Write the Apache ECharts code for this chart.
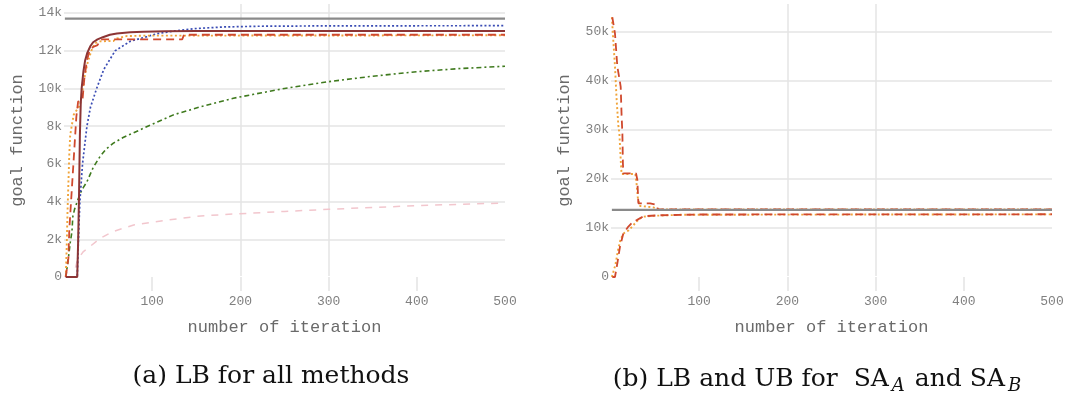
<!DOCTYPE html>
<html>
<head>
<meta charset="utf-8">
<script src="https://cdn.jsdelivr.net/npm/echarts@6/dist/echarts.min.js"></script>
<style>
  html, body { margin: 0; padding: 0; background: #ffffff; }
  #chart { width: 1070px; height: 398px; }
</style>
</head>
<body>
<div id="chart"></div>
<script>
// iteration / goal function pairs

// (a) lower bounds for all methods
const bestKnown = [[1, 13700], [500, 13700]];
const lbSolid = [[2, 0], [15, 0], [16, 1800], [17, 4200], [18, 7500], [19, 9200], [20, 10000], [22, 10900], [24, 11500],
  [26.5, 11900], [30, 12250], [33, 12450], [38, 12600], [44, 12720], [52, 12850], [60, 12920], [75, 12980], [90, 13010],
  [115, 13040], [150, 13050], [500, 13050]];
const lbBlue = [[2, 0], [15, 0], [16, 1500], [17, 2800], [18, 4000], [19.5, 5000], [21, 6000], [23.5, 7000], [26, 8000],
  [30, 9000], [37, 10000], [45, 11000], [58, 12000], [75, 12500], [94, 12750], [105, 12900], [125, 13050], [150, 13180],
  [180, 13260], [220, 13300], [300, 13320], [500, 13330]];
const lbRed = [[2, 0], [4, 0], [5, 1000], [6, 2500], [8, 4000], [10, 5500], [12, 7000], [14, 8500], [16, 9300], [21, 9400],
  [23, 10500], [26, 11500], [29, 12000], [33, 12200], [38, 12300], [42, 12600], [134, 12600], [136, 12850], [500, 12850]];
const lbOrange = [[2, 0], [3, 1500], [4, 3500], [5, 5000], [6, 6500], [7, 7500], [8.7, 8000], [11, 8600], [15, 8900],
  [18, 9100], [21, 9900], [24, 10800], [27, 11400], [31, 12000], [35, 12400], [41, 12500], [56, 12520], [60, 12650],
  [71, 12780], [90, 12800], [500, 12820]];
const lbGreen = [[2, 0], [5, 1000], [7, 1800], [9, 2400], [10, 3200], [12, 3600], [15, 4000], [18, 4400], [22, 4750],
  [26, 5050], [33, 5800], [41, 6400], [48, 6800], [56, 7100], [67, 7400], [79, 7650], [98, 8060], [124, 8600],
  [155, 9030], [192, 9480], [215, 9690], [250, 10000], [300, 10360], [350, 10650], [400, 10890], [450, 11060], [500, 11180]];
const lbPink = [[13, 500], [15, 850], [18, 1100], [22, 1350], [29, 1600], [41, 2050], [55, 2400], [79, 2760], [100, 2900],
  [117, 3020], [155, 3240], [192, 3340], [211, 3380], [250, 3480], [300, 3590], [350, 3690], [400, 3780], [450, 3860], [500, 3925]];

// (b) lower and upper bounds for SA_A and SA_B
const ubRed = [[1.5, 53000], [4.5, 49700], [7.2, 42900], [9.5, 40500], [11, 38800], [12, 33000], [12.9, 29300],
  [13.5, 23200], [14, 21150], [28.4, 21150], [29.9, 19800], [31, 15030], [44.3, 15030], [45, 14690], [52, 14690],
  [53, 13810], [500, 13810]];
const ubOrange = [[1, 53000], [2.7, 48000], [4.5, 43000], [6.4, 36100], [8.3, 31000], [9.5, 29300], [11, 24000],
  [12, 21000], [27.6, 21000], [29, 19000], [30.5, 16000], [33, 14500], [48, 14200], [55, 13800], [500, 13800]];
const lbRedB = [[1.5, 0], [4.5, 0], [7.2, 2800], [10.2, 6200], [14, 8900], [19.7, 10300], [23.5, 11000], [29.2, 11600],
  [36.7, 12400], [55.7, 12600], [100, 12750], [500, 12800]];
const lbOrangeB = [[1, 0], [3, 0], [5, 2500], [8, 5500], [11, 7800], [15, 9000], [20, 9500], [25, 10500], [30, 11500],
  [36, 12300], [50, 12500], [80, 12700], [500, 12780]];

const xTicks = { min: 0, max: 500, interval: 100 };
const xInnerTicks = [100, 200, 300, 400];
const yTicksA = { min: 0, max: 14480, interval: 2000 };
const yTicksB = { min: 0, max: 55700, interval: 10000 };

const MONO = '"Liberation Mono", "DejaVu Sans Mono", monospace';
const SERIF = '"DejaVu Serif", serif';
const GRID = '#e4e4e4';
const LABEL = '#808080';
const NAME = '#6a6a6a';

function kLabel(step) {
  return (v) => (v % step !== 0 ? '' : v === 0 ? '0' : v / 1000 + 'k');
}

function xAxis(gridIndex) {
  return {
    type: 'value', gridIndex, ...xTicks,
    name: 'number of iteration', nameLocation: 'middle', nameGap: 42,
    nameTextStyle: { fontFamily: MONO, fontSize: 17, color: NAME },
    axisLine: { show: true, lineStyle: { color: '#ffffff', width: 2 } },
    axisTick: { show: true, length: 14, customValues: xInnerTicks, lineStyle: { color: GRID, width: 1.5 } },
    axisLabel: { fontFamily: MONO, fontSize: 13, color: LABEL, margin: 18, showMinLabel: false },
    splitLine: { show: true, showMinLine: false, showMaxLine: false, lineStyle: { color: GRID, width: 1.5 } },
  };
}

function yAxis(gridIndex, ticks) {
  return {
    type: 'value', gridIndex, ...ticks,
    name: 'goal function', nameLocation: 'middle', nameGap: 38,
    nameTextStyle: { fontFamily: MONO, fontSize: 17, color: NAME },
    axisLine: { show: false },
    axisTick: { show: false },
    axisLabel: { fontFamily: MONO, fontSize: 13, color: LABEL, margin: 2, showMaxLabel: false, formatter: kLabel(ticks.interval) },
    splitLine: { show: true, showMinLine: false, showMaxLine: false, lineStyle: { color: GRID, width: 1.5 } },
  };
}

function line(idx, data, color, type, width, z) {
  return {
    type: 'line', xAxisIndex: idx, yAxisIndex: idx, data, symbol: 'none', z: z || 2,
    lineStyle: { color, type, width }, animation: false,
  };
}

const sub = { fontFamily: SERIF, fontStyle: 'italic', fontSize: 18, color: '#111111', verticalAlign: 'bottom', padding: [13, 10, 0, 3] };

const chart = echarts.init(document.getElementById('chart'));
chart.setOption({
  backgroundColor: '#ffffff',
  animation: false,
  grid: [
    { left: 64, right: 565, top: 4, bottom: 121 },
    { left: 611, right: 18, top: 4, bottom: 121 },
  ],
  xAxis: [xAxis(0), xAxis(1)],
  yAxis: [yAxis(0, yTicksA), yAxis(1, yTicksB)],
  title: [
    {
      text: '(a) LB for all methods', left: 266, top: 359, textAlign: 'center',
      textStyle: { fontFamily: SERIF, fontWeight: 'normal', fontSize: 25, color: '#111111' },
    },
    {
      text: '(b) LB and UB for  SA{s|A}and SA{s|B}', left: 817, top: 359, textAlign: 'center',
      textStyle: { fontFamily: SERIF, fontWeight: 'normal', fontSize: 25, color: '#111111', rich: { s: sub } },
    },
  ],
  series: [
    line(0, lbPink, '#f2c6cd', [7, 7], 1.5),
    line(0, lbGreen, '#3f7a1e', [5, 3, 2, 3], 1.6),
    line(0, lbBlue, '#3a4cb4', [2, 2.2], 1.7),
    line(0, lbOrange, '#f0a43a', [2, 2.5], 1.9),
    line(0, lbRed, '#d0492e', [8, 5], 1.8),
    line(0, lbSolid, '#8c3535', 'solid', 2),
    line(0, bestKnown, '#8a8a8a', 'solid', 2.2, 3),
    line(1, ubOrange, '#f0a43a', [2, 2.5], 1.9),
    line(1, ubRed, '#d0492e', [8, 5], 1.8),
    line(1, lbOrangeB, '#f0a43a', [2, 2.5], 1.9),
    line(1, lbRedB, '#d0492e', [8, 5], 1.8),
    line(1, bestKnown, '#8a8a8a', 'solid', 2.2, 3),
  ],
});
</script>
</body>
</html>
